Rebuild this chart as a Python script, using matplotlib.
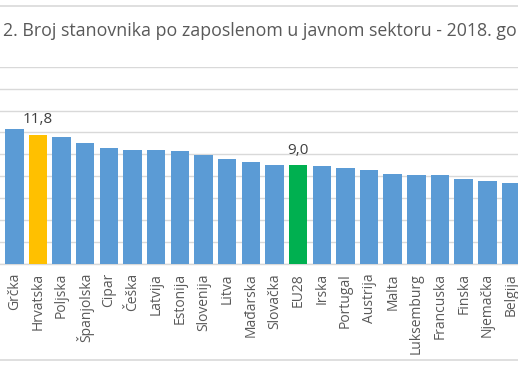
import matplotlib
matplotlib.use("Agg")
import matplotlib.pyplot as plt
from matplotlib.lines import Line2D

plt.rcParams['font.family'] = ['Open Sans', 'DejaVu Sans']

title = "2. Broj stanovnika po zaposlenom u javnom sektoru - 2018. go"
countries = ["Rumunjska", "Grčka", "Hrvatska", "Poljska", "Španjolska", "Cipar", "Češka",
             "Latvija", "Estonija", "Slovenija", "Litva", "Mađarska", "Slovačka", "EU28",
             "Irska", "Portugal", "Austrija", "Malta", "Luksemburg", "Francuska", "Finska",
             "Njemačka", "Belgija"]
values = [12.4, 12.3, 11.8, 11.6, 11.0, 10.6, 10.4, 10.4, 10.3, 9.9, 9.6, 9.3, 9.0, 9.0,
          8.9, 8.8, 8.6, 8.2, 8.1, 8.1, 7.8, 7.6, 7.4]
highlight = {"Hrvatska": "#FFC000", "EU28": "#00B050"}
labelled = ["Hrvatska", "EU28"]

W, H = 518, 369
fig = plt.figure(figsize=(W / 100, H / 100), dpi=100)
ax = fig.add_axes([0, (H - 264) / H, 1, (264 - 66.7) / H])

x = list(range(len(countries)))
colors = [highlight.get(c, "#5B9BD5") for c in countries]
ax.bar(x, values, width=0.78, color=colors, zorder=3)

ax.set_xticks(x)
ax.set_xticklabels(countries, rotation=90, fontsize=10, color="#595959")
ax.tick_params(axis="x", length=0, pad=6.5)

ax.set_yticks(range(0, 19, 2))
ax.set_xlim(0.395, 22.298)
ax.set_ylim(0, 18)
ax.yaxis.grid(True, color="#d9d9d9", linewidth=1.0, zorder=0)
ax.tick_params(axis="y", left=False, labelleft=False)
for s in ["top", "left", "right"]:
    ax.spines[s].set_visible(False)
ax.spines["bottom"].set_color("#d9d9d9")
ax.spines["bottom"].set_linewidth(1.0)

for c, v, xi in zip(countries, values, x):
    if c in labelled:
        ax.annotate(f"{v:.1f}".replace(".", ","), (xi, v), xytext=(0, 8.2),
                    textcoords="offset points", ha="center", va="baseline",
                    fontsize=11, color="#404040")

fig.text(3 / W, 1 - 35.5 / H, title, ha="left", va="baseline", fontsize=12.8, color="#595959")

fig.add_artist(Line2D([0, 1], [1 - 6 / H] * 2, color="#d9d9d9", linewidth=1.2,
                      transform=fig.transFigure))
fig.add_artist(Line2D([0, 1], [1 - 360 / H] * 2, color="#d9d9d9", linewidth=1.2,
                      transform=fig.transFigure))

fig.savefig("out.png", dpi=100, facecolor="white")
